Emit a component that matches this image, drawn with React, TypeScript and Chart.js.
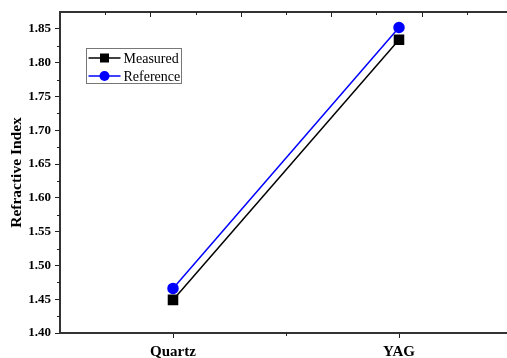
import React, { useEffect, useRef } from "react";
import { Chart, registerables } from "chart.js";

Chart.register(...registerables);

const categories = ["Quartz", "YAG"];
const categoryPositions = [1, 3];
const measured = [1.449, 1.834];
const reference = [1.466, 1.852];
const yMajorStep = 0.05;

const FONT = "'Times New Roman', 'Liberation Serif', serif";
const AXIS = "#333333";

const framePlugin = {
  id: "frameAndLegend",
  afterDraw(chart: any) {
    const { ctx, chartArea } = chart;
    const x = chart.scales.x;
    const y = chart.scales.y;
    ctx.save();
    ctx.strokeStyle = AXIS;
    ctx.lineWidth = 2;
    ctx.beginPath();
    ctx.moveTo(chartArea.left - 1, chartArea.top);
    ctx.lineTo(chartArea.right, chartArea.top);
    ctx.stroke();
    ctx.lineWidth = 1;
    ctx.strokeStyle = "#222";
    for (let i = 1; i < 10; i++) {
      const v = i * 0.4;
      const px = Math.round(x.getPixelForValue(v)) + 0.5;
      const len = i % 2 === 0 ? 5 : 3;
      ctx.beginPath();
      ctx.moveTo(px, chartArea.top);
      ctx.lineTo(px, chartArea.top + len);
      ctx.stroke();
    }
    for (let v = y.min + yMajorStep / 2; v < y.max; v += yMajorStep) {
      const py = Math.round(y.getPixelForValue(v)) + 0.5;
      ctx.beginPath();
      ctx.moveTo(chartArea.left - 3, py);
      ctx.lineTo(chartArea.left, py);
      ctx.stroke();
    }
    const mid = Math.round(x.getPixelForValue(2)) + 0.5;
    ctx.beginPath();
    ctx.moveTo(mid, chartArea.bottom);
    ctx.lineTo(mid, chartArea.bottom + 3);
    ctx.stroke();

    const bx = 86.5, by = 48.5, bw = 95, bh = 35;
    ctx.strokeStyle = "#777";
    ctx.lineWidth = 1;
    ctx.strokeRect(bx, by, bw, bh);
    chart.data.datasets.forEach((ds: any, i: number) => {
      const ly = by + 9.5 + i * 18;
      ctx.strokeStyle = ds.borderColor;
      ctx.lineWidth = 1.5;
      ctx.beginPath();
      ctx.moveTo(bx + 2, ly);
      ctx.lineTo(bx + 34, ly);
      ctx.stroke();
      ctx.fillStyle = ds.pointBackgroundColor;
      if (ds.pointStyle === "rect") {
        ctx.fillRect(bx + 18 - 4.5, ly - 4.5, 9, 9);
      } else {
        ctx.beginPath();
        ctx.arc(bx + 18, ly, 5, 0, Math.PI * 2);
        ctx.fill();
      }
      ctx.fillStyle = "#000";
      ctx.font = `14px ${FONT}`;
      ctx.textBaseline = "middle";
      ctx.textAlign = "left";
      ctx.fillText(ds.label, bx + 37, ly + 1);
    });
    ctx.restore();
  },
};

export default function App() {
  const ref = useRef<HTMLCanvasElement>(null);
  useEffect(() => {
    if (!ref.current) return;
    const chart = new Chart(ref.current, {
      type: "line",
      data: {
        datasets: [
          {
            label: "Measured",
            data: categoryPositions.map((x, i) => ({ x, y: measured[i] })),
            borderColor: "#000000",
            backgroundColor: "#000000",
            pointBackgroundColor: "#000000",
            pointBorderColor: "#000000",
            pointStyle: "rect",
            pointRadius: 6.4,
            borderWidth: 1.5,
          },
          {
            label: "Reference",
            data: categoryPositions.map((x, i) => ({ x, y: reference[i] })),
            borderColor: "#0000ff",
            backgroundColor: "#0000ff",
            pointBackgroundColor: "#0000ff",
            pointBorderColor: "#0000ff",
            pointStyle: "circle",
            pointRadius: 5,
            borderWidth: 1.5,
          },
        ],
      },
      options: {
        animation: false,
        responsive: false,
        layout: { padding: { top: 12, right: 28, left: 0, bottom: 0 } },
        plugins: { legend: { display: false }, tooltip: { enabled: false } },
        scales: {
          x: {
            type: "linear",
            min: 0,
            max: 4,
            afterFit: (s: any) => { s.height = 25; },
            afterBuildTicks: (s: any) => {
              s.ticks = categoryPositions.map((v) => ({ value: v }));
            },
            ticks: {
              autoSkip: false,
              maxRotation: 0,
              padding: 5,
              color: "#000",
              font: { family: FONT, size: 15, weight: "bold" },
              callback: (v: any) => {
                const i = categoryPositions.indexOf(Number(v));
                return i >= 0 ? categories[i] : "";
              },
            },
            grid: { drawOnChartArea: false, tickLength: 5, color: "#222" },
            border: { color: AXIS, width: 2 },
          },
          y: {
            type: "linear",
            min: 1.4,
            max: 1.875,
            afterFit: (s: any) => { s.width = 60; },
            afterBuildTicks: (s: any) => {
              const t = [];
              for (let v = 1.4; v <= 1.8501; v += yMajorStep) t.push({ value: Math.round(v * 100) / 100 });
              s.ticks = t;
            },
            ticks: {
              padding: 4,
              color: "#000",
              font: { family: FONT, size: 13, weight: "bold" },
              callback: (v: any) => Number(v).toFixed(2),
            },
            title: {
              display: true,
              text: "Refractive Index",
              color: "#000",
              font: { family: FONT, size: 15.5, weight: "bold" },
              padding: { top: 8, bottom: 0 },
            },
            grid: { drawOnChartArea: false, tickLength: 5, color: "#222" },
            border: { color: AXIS, width: 2 },
          },
        },
      },
      plugins: [framePlugin],
    } as any);
    return () => chart.destroy();
  }, []);
  return (
    <div style={{ position: "fixed", left: 0, top: 0, width: 507, height: 358, overflow: "hidden", background: "#fff" }}>
      <canvas ref={ref} width={540} height={358} style={{ display: "block" }} />
    </div>
  );
}
